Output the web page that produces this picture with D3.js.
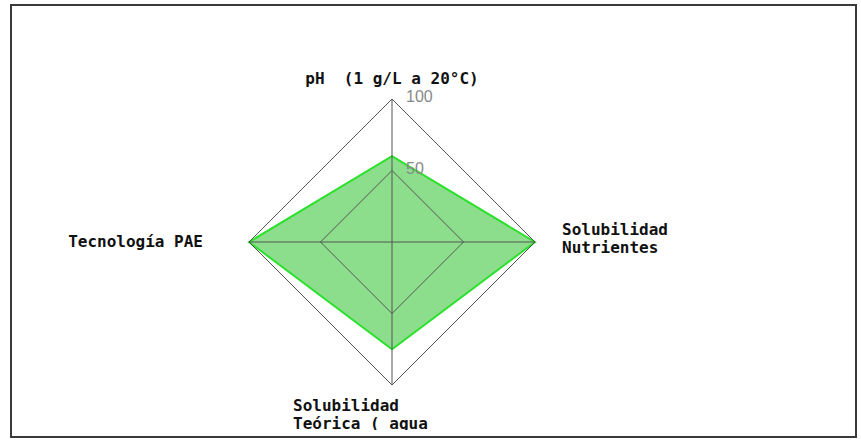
<!DOCTYPE html>
<html>
<head>
<meta charset="utf-8">
<script src="https://cdn.jsdelivr.net/npm/d3@7"></script>
<style>
  body { margin: 0; background: #fff; }
</style>
</head>
<body>
<script>
// radar chart data
var axisLabels = [
  ['pH  (1 g/L a 20\u00b0C)'],
  ['Solubilidad', 'Nutrientes'],
  ['Solubilidad', 'Te\u00f3rica ( agua'],
  ['Tecnolog\u00eda PAE']
];
var seriesValues = [60, 100, 75, 100];
var ringTicks = [50, 100];

var width = 861, height = 441;
var cx = 392, cy = 242, radius = 143;

var svg = d3.select('body').append('svg')
  .attr('width', width)
  .attr('height', height);

// frame
svg.append('rect')
  .attr('x', 11).attr('y', 5)
  .attr('width', 845).attr('height', 432)
  .attr('fill', 'none')
  .attr('stroke', '#3a3a3a')
  .attr('stroke-width', 2);

svg.append('clipPath').attr('id', 'plotclip')
  .append('rect')
  .attr('x', 12).attr('y', 6).attr('width', 843).attr('height', 424);

var g = svg.append('g').attr('clip-path', 'url(#plotclip)');

var r = d3.scaleLinear().domain([0, 100]).range([0, radius]);
var angle = d3.scaleLinear().domain([0, axisLabels.length]).range([0, 2 * Math.PI]);

function px(i, v) { return cx + r(v) * Math.sin(angle(i)); }
function py(i, v) { return cy - r(v) * Math.cos(angle(i)); }

var line = d3.line()
  .x(function(d) { return px(d.i, d.v); })
  .y(function(d) { return py(d.i, d.v); })
  .curve(d3.curveLinearClosed);

// data area
g.append('path')
  .datum(seriesValues.map(function(v, i) { return {i: i, v: v}; }))
  .attr('d', line)
  .attr('fill', '#8cde8c')
  .attr('stroke', '#2ee02e')
  .attr('stroke-width', 2)
  .attr('stroke-linejoin', 'miter');

// rings
ringTicks.forEach(function(t) {
  g.append('path')
    .datum(axisLabels.map(function(d, i) { return {i: i, v: t}; }))
    .attr('d', line)
    .attr('fill', 'none')
    .attr('stroke', '#555')
    .attr('stroke-width', 1);
});

// spokes
g.selectAll('.spoke')
  .data(axisLabels)
  .enter().append('line')
  .attr('class', 'spoke')
  .attr('x1', cx).attr('y1', cy)
  .attr('x2', function(d, i) { return px(i, 100); })
  .attr('y2', function(d, i) { return py(i, 100); })
  .attr('stroke', '#555')
  .attr('stroke-width', 1);

// ring tick labels
g.selectAll('.tick')
  .data(ringTicks)
  .enter().append('text')
  .attr('x', cx + 14)
  .attr('y', function(d) { return cy - r(d) + 3; })
  .attr('fill', '#888')
  .attr('font-family', 'Liberation Sans, Arial, sans-serif')
  .attr('font-size', 16)
  .text(function(d) { return d; });

// axis labels
var labelPos = [
  {x: cx, y: 84, anchor: 'middle'},
  {x: px(1, 100) + 27, y: 235, anchor: 'start'},
  {x: 293, y: 411, anchor: 'start'},
  {x: px(3, 100) - 46, y: 247, anchor: 'end'}
];

axisLabels.forEach(function(lines, i) {
  var t = g.append('text')
    .attr('x', labelPos[i].x)
    .attr('y', labelPos[i].y)
    .attr('text-anchor', labelPos[i].anchor)
    .attr('font-family', 'DejaVu Sans Mono, monospace')
    .attr('font-weight', 'bold')
    .attr('font-size', 16)
    .attr('fill', '#111');
  lines.forEach(function(s, k) {
    t.append('tspan')
      .attr('x', labelPos[i].x)
      .attr('dy', k === 0 ? 0 : 18)
      .style('white-space', 'pre')
      .text(s);
  });
});
</script>
</body>
</html>
